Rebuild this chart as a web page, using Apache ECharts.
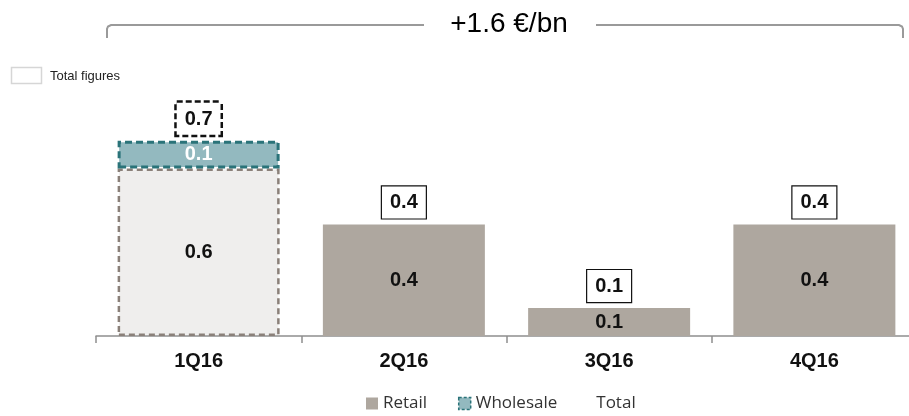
<!DOCTYPE html>
<html>
<head>
<meta charset="utf-8">
<script src="https://cdn.jsdelivr.net/npm/echarts@6/dist/echarts.min.js"></script>
<style>
  html, body { margin: 0; padding: 0; background: #fff; }
  #chart { width: 909px; height: 416px; }
</style>
</head>
<body>
<div id="chart"></div>
<script>
// Quarterly contribution, €bn
const categories = ['1Q16', '2Q16', '3Q16', '4Q16'];
const retail = [0.6, 0.4, 0.1, 0.4];
const wholesale = [0.1, null, null, null];
const totals = [0.7, 0.4, 0.1, 0.4];
const headline = '+1.6 €/bn';

const FONT = '"Liberation Sans", Arial, sans-serif';
const fmt = p => (p.value == null ? '' : Number(p.value).toFixed(1));

const chart = echarts.init(document.getElementById('chart'), null, { renderer: 'canvas' });

// first quarter is shown with dashed outlines
const retailData = retail.map((v, i) => i === 0
  ? { value: v, itemStyle: { color: '#efeeed', borderColor: '#8a8079', borderWidth: 2.5, borderType: [6, 4] } }
  : v);
const wholesaleData = wholesale.map(v => v == null ? '-' : v);
const totalData = totals.map((v, i) => i === 0
  ? { value: v, label: { borderType: [6, 3], borderWidth: 2.5, borderColor: '#111' } }
  : v);

const barW = 162;

chart.setOption({
  animation: false,
  textStyle: { fontFamily: FONT },
  grid: { left: 96, top: 57, width: 821, bottom: 80, containLabel: false, outerBoundsMode: 'none' },
  xAxis: {
    type: 'category',
    data: categories,
    axisLine: { lineStyle: { color: '#8f8f8f', width: 1.5 } },
    axisTick: { show: true, length: 7, lineStyle: { color: '#8f8f8f', width: 1.5 } },
    axisLabel: { color: '#111', fontSize: 20, fontWeight: 'bold', margin: 15, fontFamily: FONT }
  },
  yAxis: {
    type: 'value', min: 0, max: 1,
    show: false, splitLine: { show: false }
  },
  legend: {
    bottom: 0,
    left: 366,
    padding: [0, 0, 4, 0],
    icon: 'rect',
    itemWidth: 12, itemHeight: 12, itemGap: 22,
    // a little extra room after the first entry
    formatter: name => (name === 'Retail' ? name + '  ' : name),
    textStyle: { fontFamily: '"Open Sans", sans-serif', fontSize: 17, color: '#333' },
    data: [
      { name: 'Retail', itemStyle: { color: '#aea79f', borderWidth: 0 } },
      { name: 'Wholesale', itemStyle: { color: '#93b9bf', borderColor: '#2a7379', borderWidth: 1.5, borderType: [3, 2] } },
      { name: 'Total', itemStyle: { opacity: 0 } }
    ]
  },
  graphic: [
    // bracket spanning the four quarters
    {
      type: 'polyline',
      shape: { points: [[107, 38], [107, 29], [108, 26.5], [111, 25], [424, 25]] },
      style: { stroke: '#9a9a9a', lineWidth: 2, fill: null }
    },
    {
      type: 'polyline',
      shape: { points: [[596, 25], [899, 25], [902, 26.5], [903, 29], [903, 38]] },
      style: { stroke: '#9a9a9a', lineWidth: 2, fill: null }
    },
    {
      type: 'text', x: 509, y: 24,
      style: { text: headline, font: '28px ' + FONT, fill: '#000', align: 'center', verticalAlign: 'middle' }
    },
    // key for the boxed totals
    {
      type: 'rect', shape: { x: 11.5, y: 67.5, width: 30, height: 16 },
      style: { fill: '#fff', stroke: '#d6d6d6', lineWidth: 1.5 }
    },
    {
      type: 'text', x: 50, y: 76,
      style: { text: 'Total figures', font: '13px ' + FONT, fill: '#222', verticalAlign: 'middle' }
    }
  ],
  series: [
    {
      name: 'Retail', type: 'bar', stack: 'q', barWidth: barW, barGap: '-100%',
      data: retailData,
      itemStyle: { color: '#aea79f' },
      label: { show: true, position: 'inside', formatter: fmt, color: '#111', fontSize: 20, fontWeight: 'bold', fontFamily: FONT },
      z: 3
    },
    {
      name: 'Wholesale', type: 'bar', stack: 'q', barWidth: barW, barGap: '-100%',
      data: wholesaleData,
      itemStyle: { color: '#93b9bf', borderColor: '#2a7379', borderWidth: 3, borderType: [7, 4] },
      label: { show: true, position: 'inside', formatter: fmt, color: '#fff', fontSize: 20, fontWeight: 'bold', fontFamily: FONT },
      z: 3
    },
    {
      name: 'Total', type: 'bar', barWidth: barW, barGap: '-100%',
      data: totalData,
      itemStyle: { color: 'rgba(0,0,0,0)' },
      label: {
        show: true, position: 'top', distance: 6, formatter: fmt,
        color: '#111', fontSize: 20, fontWeight: 'bold', fontFamily: FONT,
        backgroundColor: '#fff', borderColor: '#111', borderWidth: 1.2,
        padding: [6, 8, 5, 8], lineHeight: 21
      },
      z: 2
    }
  ]
});
</script>
</body>
</html>
